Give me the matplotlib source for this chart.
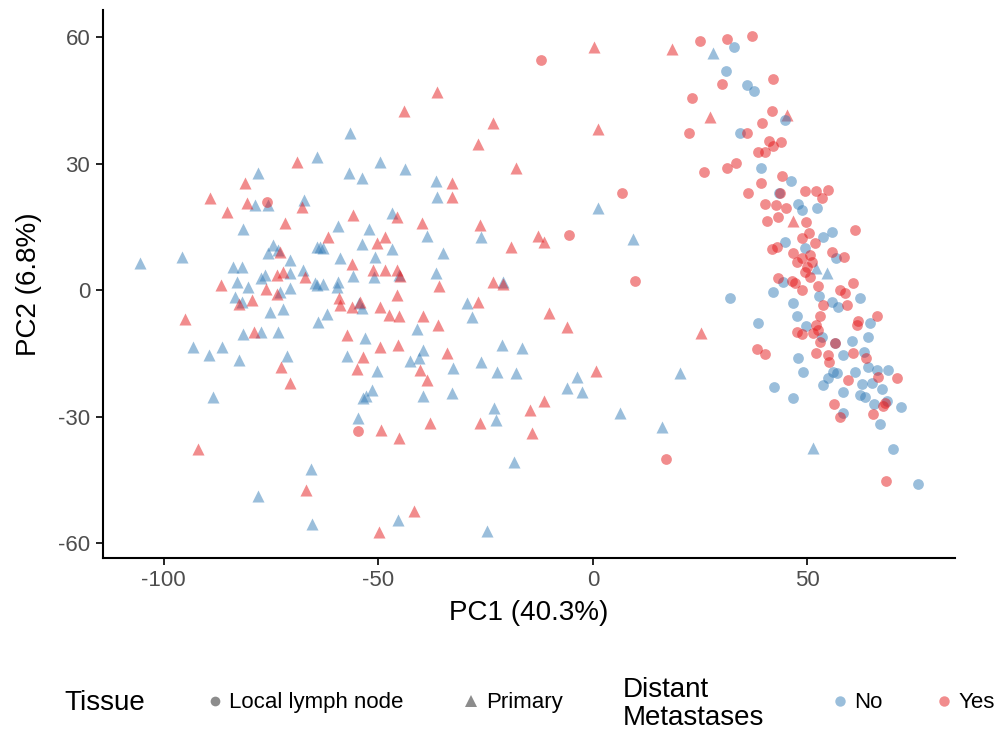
import matplotlib
matplotlib.use("Agg")
import matplotlib.pyplot as plt
from matplotlib.lines import Line2D

plt.rcParams['font.family'] = ['Liberation Sans', 'DejaVu Sans']

# PCA scores, split by tissue and distant metastases status
prim_no_pc1 = [-105.6, -95.8, -93.2, -89.5, -88.6, -86.5, -82.5, -81.6, -77.4, -73.4,
               -71.3, -83.9, -81.8, -83.0, -80.4, -77.4, -76.5, -83.4, -81.8, -75.3,
               -72.3, -81.6, -78.0, -78.8, -75.8, -67.4, -74.6, -75.8, -73.4, -70.6,
               -70.6, -67.6, -73.0, -70.6, -64.3, -64.3, -64.1, -78.0, -65.7, -65.5,
               -64.3, -56.6, -56.9, -53.8, -49.7, -43.8, -36.6, -36.4, -46.9, -26.1,
               -59.4, -52.2, -38.7, -63.6, -62.9, -53.8, -46.9, -35.0, -59.0, -50.8,
               -51.0, -55.9, -36.6, -21.0, -45.2, -64.8, -62.9, -59.4, -59.7, -54.5,
               -53.8, -29.4, -28.2, -62.0, -41.0, -53.1, -21.2, -16.6, -57.3, -39.6,
               -42.7, -40.6, -50.3, -32.6, -26.1, -22.4, -18.0, -51.5, -53.6, -52.8,
               -39.6, -32.9, -23.1, -22.6, -54.8, -18.4, -45.5, -24.7, 1.2, 9.3,
               -3.7, -6.1, -2.6, 6.3, 16.1, 20.3, 28.0, 52.0, 54.5, 51.3]
prim_no_pc2 = [6.4, 7.8, -13.5, -15.4, -25.4, -13.5, -16.6, -10.4, -10.0, -10.0,
               -15.6, 5.5, 5.5, 1.9, 0.7, 2.8, 3.5, -1.7, -2.8, -5.2,
               -4.5, 14.5, 27.7, 20.1, 20.1, 21.3, 10.7, 8.8, 9.5, 7.1,
               4.0, 4.7, -0.5, 0.5, 10.2, 1.2, -7.6, -48.8, -42.4, -55.5,
               31.5, 37.2, 27.7, 26.5, 30.3, 28.7, 25.8, 22.0, 18.2, 12.6,
               15.2, 14.5, 12.8, 10.2, 9.9, 10.9, 9.7, 8.8, 7.6, 7.8,
               3.1, 3.3, 4.0, 1.9, 3.6, 1.7, 1.4, 1.9, 0.7, -3.1,
               -4.3, -3.1, -6.4, -5.7, -9.2, -11.4, -13.0, -13.7, -15.6, -14.2,
               -16.8, -16.1, -19.2, -18.5, -17.1, -19.4, -19.7, -23.7, -25.6, -25.2,
               -25.1, -24.4, -28.0, -30.8, -30.3, -40.8, -54.5, -57.1, 19.4, 12.1,
               -20.6, -23.2, -24.2, -29.1, -32.5, -19.7, 56.2, 5.2, 4.0, -37.4]

prim_yes_pc1 = [-69.0, -81.0, -89.3, -85.3, -80.7, -67.8, -71.8, -72.8, -73.7, -72.3,
                -67.1, -86.7, -76.2, -73.5, -82.5, -79.5, -95.1, -79.0, -72.7, -70.6,
                -92.0, -66.9, -36.4, -44.0, -23.3, -26.8, -18.0, -32.9, -32.9, -55.9,
                -45.7, -39.9, -26.3, -19.1, -61.8, -48.5, -50.3, -56.2, -51.3, -48.5,
                -45.7, -45.0, -35.9, -23.3, -21.0, -45.7, -59.2, -59.0, -56.2, -54.3,
                -26.8, -49.7, -47.6, -45.2, -39.6, -36.1, -57.3, -49.7, -45.5, -34.0,
                -53.6, -55.0, -40.3, -38.7, -49.4, -45.2, -38.0, -26.3, -41.7, -49.9,
                -12.8, -11.4, -10.3, -6.1, 25.2, 0.7, -11.4, -14.7, -14.2, 0.2,
                18.4, 27.3, 1.2, 45.2, 46.6]
prim_yes_pc2 = [30.3, 25.4, 21.8, 18.5, 20.6, 19.7, 15.9, 9.0, 3.6, 4.3,
                3.1, 1.2, 0.2, -0.8, -3.3, -2.4, -6.9, -10.0, -18.2, -22.0,
                -37.7, -47.4, 47.0, 42.4, 39.6, 34.8, 28.9, 25.4, 22.2, 17.8,
                17.3, 15.9, 15.4, 10.2, 12.6, 12.6, 11.1, 6.2, 4.7, 4.7,
                4.7, 3.4, 0.9, 1.9, 1.5, -1.2, -1.9, -3.6, -4.0, -2.8,
                -2.8, -4.0, -5.9, -6.2, -6.2, -8.3, -10.7, -13.5, -13.0, -14.9,
                -15.9, -18.7, -19.0, -21.3, -33.2, -35.1, -31.5, -31.5, -52.4, -57.3,
                12.8, 11.4, -5.5, -8.8, -10.2, -19.2, -26.3, -28.4, -33.9, 57.6,
                57.3, 41.0, 38.2, 41.5, 16.5]

ln_no_pc1 = [32.9, 31.0, 35.9, 37.5, 34.3, 44.8, 39.2, 46.2, 43.4, 47.8,
             48.7, 52.2, 55.7, 53.6, 44.8, 49.4, 56.6, 44.3, 42.0, 32.0,
             52.7, 62.2, 46.6, 55.7, 57.1, 47.6, 64.6, 38.5, 49.7, 64.1,
             53.4, 56.4, 60.4, 47.8, 58.3, 63.2, 49.0, 55.9, 56.9, 61.0,
             64.1, 66.2, 68.8, 54.8, 42.2, 53.6, 62.7, 65.0, 67.4, 58.3,
             62.2, 63.4, 46.6, 68.5, 58.3, 65.5, 71.8, 66.9, 69.9, 75.8]
ln_no_pc2 = [57.8, 52.1, 48.6, 47.2, 37.2, 40.3, 28.9, 25.8, 23.0, 20.4,
             19.0, 19.4, 13.7, 12.6, 11.4, 10.0, 7.6, 1.9, -0.5, -1.9,
             -1.4, -1.9, -3.1, -2.8, -4.0, -6.2, -7.8, -7.8, -8.5, -11.1,
             -11.1, -12.6, -12.1, -16.1, -15.4, -14.7, -19.4, -19.4, -19.7, -19.4,
             -18.2, -19.0, -19.0, -20.9, -23.0, -22.5, -22.3, -22.0, -23.5, -24.2,
             -24.9, -25.4, -25.6, -26.3, -29.1, -27.0, -27.7, -31.8, -37.7, -46.0]

ln_yes_pc1 = [-12.1, 24.9, 31.2, 37.0, 30.0, 23.1, 42.0, 41.7, 39.4, 22.4,
              35.9, 41.0, 43.8, 42.0, 38.5, 40.1, 25.9, 31.2, 33.3, 44.0,
              39.2, 36.1, 43.6, 49.4, 52.0, 54.8, 53.4, 40.1, 42.7, 45.0,
              40.6, 43.1, 49.7, 61.0, 50.3, 48.7, 51.7, 41.7, 42.9, 55.7,
              58.5, 46.6, 48.7, 50.6, 47.6, 50.0, 51.0, 49.4, 50.6, 43.1,
              46.4, 47.0, 60.6, 52.4, 48.7, 57.6, 58.7, 59.2, 53.6, 52.9,
              66.2, 61.8, 61.5, 52.0, 52.4, 47.6, 48.7, 51.3, 52.9, 56.4,
              38.2, 40.1, 52.0, 54.8, 55.0, 60.6, 63.6, 66.4, 70.9, 59.4,
              56.2, 57.6, 68.0, 67.5, 65.3, 68.3, 17.0, -54.8, -76.0, 6.8,
              9.8, -5.6]
ln_yes_pc2 = [54.7, 59.0, 59.7, 60.4, 48.8, 45.5, 50.2, 42.4, 39.6, 37.2,
              37.2, 35.3, 35.1, 34.1, 32.7, 32.9, 28.0, 28.9, 30.1, 27.0,
              25.4, 23.0, 23.0, 23.5, 23.5, 23.7, 21.8, 20.4, 20.1, 19.4,
              16.4, 17.3, 16.1, 14.2, 13.5, 12.3, 11.1, 9.7, 10.2, 9.0,
              7.8, 8.8, 7.6, 8.3, 6.6, 5.5, 6.6, 4.3, 3.1, 2.8,
              2.1, 1.8, 1.7, 0.9, 0.0, 0.0, -0.7, -3.6, -3.6, -6.2,
              -6.2, -7.3, -8.3, -8.3, -9.5, -10.0, -10.4, -10.2, -12.3, -12.6,
              -14.0, -15.2, -14.9, -15.4, -17.0, -14.9, -16.1, -20.6, -20.9, -21.3,
              -27.0, -30.1, -26.8, -27.5, -29.4, -45.3, -40.0, -33.4, 20.9, 23.0,
              2.1, 13.0]

blue = '#377EB8'
red = '#E41A1C'
alpha = 0.5

fig = plt.figure(figsize=(9.98, 7.36), dpi=100)
ax = fig.add_axes([0.103, 0.242, 0.854, 0.744])

ax.scatter(prim_no_pc1, prim_no_pc2, s=75, marker='^', color=blue, alpha=alpha, linewidths=0)
ax.scatter(prim_yes_pc1, prim_yes_pc2, s=75, marker='^', color=red, alpha=alpha, linewidths=0)
ax.scatter(ln_no_pc1, ln_no_pc2, s=60, marker='o', color=blue, alpha=alpha, linewidths=0)
ax.scatter(ln_yes_pc1, ln_yes_pc2, s=60, marker='o', color=red, alpha=alpha, linewidths=0)

ax.set_xlim(-114.2, 84.4)
ax.set_ylim(-63.5, 66.4)
ax.set_xticks([-100, -50, 0, 50])
ax.set_xticklabels(['-100', '-50', '0', '50'])
ax.set_yticks([-60, -30, 0, 30, 60])
ax.set_yticklabels(['-60', '-30', '0', '30', '60'])

for side in ['top', 'right']:
    ax.spines[side].set_visible(False)
for side in ['left', 'bottom']:
    ax.spines[side].set_linewidth(1.5)
ax.tick_params(axis='both', length=5, width=1.2, labelsize=16, labelcolor='#4D4D4D', pad=4)

ax.set_xlabel('PC1 (40.3%)', fontsize=20, labelpad=6)
ax.set_ylabel('PC2 (6.8%)', fontsize=20, labelpad=12)

# legend at the bottom
fig.text(0.065, 0.045, 'Tissue', fontsize=20, va='center', ha='left')
tissue_handles = [
    Line2D([], [], marker='o', linestyle='', color='black', alpha=0.45, markersize=7, markeredgewidth=0),
    Line2D([], [], marker='^', linestyle='', color='black', alpha=0.45, markersize=8.5, markeredgewidth=0),
]
fig.legend(tissue_handles, ['Local lymph node', 'Primary'], ncol=2, loc='center left',
           bbox_to_anchor=(0.2095, 0.045), frameon=False, fontsize=16, handlelength=0.5,
           handletextpad=0.4, columnspacing=2.8, borderpad=0, borderaxespad=0)

fig.text(0.624, 0.044, 'Distant\nMetastases', fontsize=20, va='center', ha='left', linespacing=1.1)
meta_handles = [
    Line2D([], [], marker='o', linestyle='', color=blue, alpha=alpha, markersize=7.5, markeredgewidth=0),
    Line2D([], [], marker='o', linestyle='', color=red, alpha=alpha, markersize=7.5, markeredgewidth=0),
]
fig.legend(meta_handles, ['No', 'Yes'], ncol=2, loc='center left',
           bbox_to_anchor=(0.836, 0.045), frameon=False, fontsize=16, handlelength=0.5,
           handletextpad=0.4, columnspacing=2.5, borderpad=0, borderaxespad=0)

fig.savefig('out.png', dpi=100)
